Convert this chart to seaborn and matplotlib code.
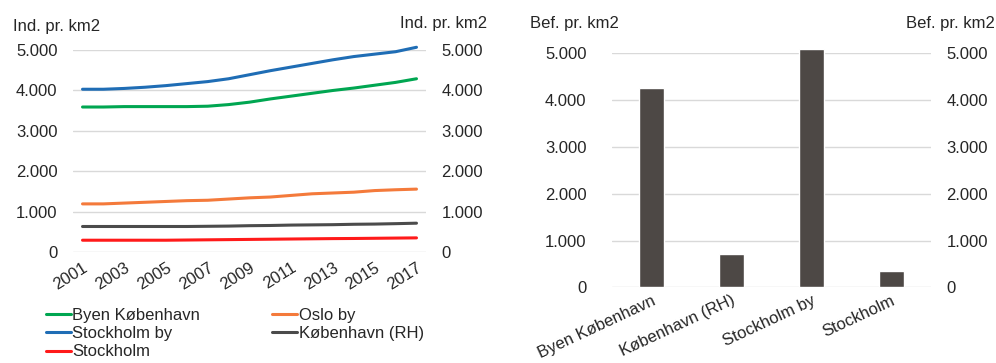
import matplotlib

matplotlib.use("Agg")

import matplotlib.pyplot as plt
import numpy as np
import pandas as pd
import seaborn as sns
from matplotlib.ticker import FuncFormatter

years = list(range(2001, 2018))
byen_kbh = [3590, 3590, 3600, 3600, 3600, 3600, 3610, 3650, 3710, 3790, 3860, 3930,
            4000, 4060, 4130, 4200, 4290]
oslo_by = [1190, 1190, 1210, 1230, 1250, 1270, 1280, 1310, 1340, 1360, 1400, 1440,
           1460, 1480, 1520, 1540, 1556]
stockholm_by = [4030, 4030, 4050, 4080, 4120, 4170, 4220, 4290, 4390, 4490, 4580, 4670,
                4760, 4840, 4900, 4960, 5070]
kbh_rh = [630, 630, 630, 630, 630, 630, 635, 640, 650, 655, 665, 670, 675, 685, 690,
          700, 712]
stockholm = [290, 290, 290, 290, 290, 295, 300, 305, 310, 315, 320, 325, 330, 333, 338,
             343, 348]

series_names = ["Byen København", "Oslo by", "Stockholm by", "København (RH)", "Stockholm"]
series_colors = ["#00A651", "#F47A3B", "#1F6DB5", "#4B4B4B", "#FF1A1A"]

bar_labels = ["Byen København", "København (RH)", "Stockholm by", "Stockholm"]
bar_values = [4270, 712, 5085, 349]

sns.set_style("white")
plt.rcParams["font.family"] = ["Liberation Sans", "DejaVu Sans"]
FS = 12

lines = pd.DataFrame({
    "year": years * 5,
    "value": byen_kbh + oslo_by + stockholm_by + kbh_rh + stockholm,
    "series": np.repeat(series_names, len(years)),
})
bars = pd.DataFrame({"label": bar_labels, "value": bar_values})

fmt = FuncFormatter(lambda v, _: f"{int(v):,}".replace(",", "."))
grid_c = "#D9D9D9"
yt = range(0, 5001, 1000)

fig = plt.figure(figsize=(9.96, 3.63), dpi=100)
ax1 = fig.add_axes([0.073, 0.306, 0.355, 0.556])
ax2 = fig.add_axes([0.614, 0.2085, 0.321, 0.6445])


def right_labels(ax, pad):
    tw = ax.twinx()
    tw.set_ylim(ax.get_ylim())
    tw.set_yticks(yt)
    tw.yaxis.set_major_formatter(fmt)
    tw.tick_params(axis="y", length=0, labelsize=FS, pad=pad)
    sns.despine(ax=tw, left=True, right=True, bottom=True)
    return tw


# ── left: lines
sns.lineplot(data=lines, x="year", y="value", hue="series", hue_order=series_names,
             palette=series_colors, linewidth=2.2, ax=ax1, legend=True)
for ln in ax1.lines:
    ln.set_clip_on(False)
ax1.set_xlim(2000.53, 2017.47)
ax1.set_ylim(0, 5000)
ax1.set_xticks(years[::2])
ax1.set_yticks(yt)
ax1.yaxis.set_major_formatter(fmt)
ax1.tick_params(axis="x", rotation=32, length=0, labelsize=FS, pad=6)
for t in ax1.get_xticklabels():
    t.set_ha("right")
    t.set_rotation_mode("anchor")
ax1.tick_params(axis="y", length=0, labelsize=FS, pad=11)
ax1.grid(axis="y", color=grid_c, linewidth=1)
ax1.set_xlabel("")
ax1.set_ylabel("")
sns.despine(ax=ax1, left=True, bottom=True)
handles, labels = ax1.get_legend_handles_labels()
order = [0, 2, 4, 1, 3]
ax1.legend([handles[i] for i in order], [labels[i] for i in order],
           loc="upper left", bbox_to_anchor=(-0.1, -0.235), ncol=2, frameon=False,
           fontsize=FS, handlelength=1.5, handletextpad=0.1, columnspacing=4.3,
           labelspacing=0.2, borderpad=0)
right_labels(ax1, 11)

# ── right: bars
sns.barplot(data=bars, x="label", y="value", color="#4D4845", width=0.31, ax=ax2,
            saturation=1)
for p in ax2.patches:
    p.set_clip_on(False)
ax2.set_xlim(-0.5, 3.5)
ax2.set_ylim(0, 5000)
ax2.set_yticks(yt)
ax2.yaxis.set_major_formatter(fmt)
ax2.tick_params(axis="x", rotation=25, length=0, labelsize=FS, pad=4)
for t in ax2.get_xticklabels():
    t.set_ha("right")
    t.set_rotation_mode("anchor")
ax2.tick_params(axis="y", length=0, labelsize=FS, pad=18)
ax2.grid(axis="y", color=grid_c, linewidth=1)
ax2.set_axisbelow(True)
ax2.set_xlabel("")
ax2.set_ylabel("")
sns.despine(ax=ax2, left=True, bottom=True)
right_labels(ax2, 11)

fig.text(0.013, 0.928, "Ind. pr. km2", fontsize=FS, va="center", ha="left")
fig.text(0.489, 0.934, "Ind. pr. km2", fontsize=FS, va="center", ha="right")
fig.text(0.532, 0.934, "Bef. pr. km2", fontsize=FS, va="center", ha="left")
fig.text(0.999, 0.934, "Bef. pr. km2", fontsize=FS, va="center", ha="right")

fig.savefig("out.png", dpi=100)
